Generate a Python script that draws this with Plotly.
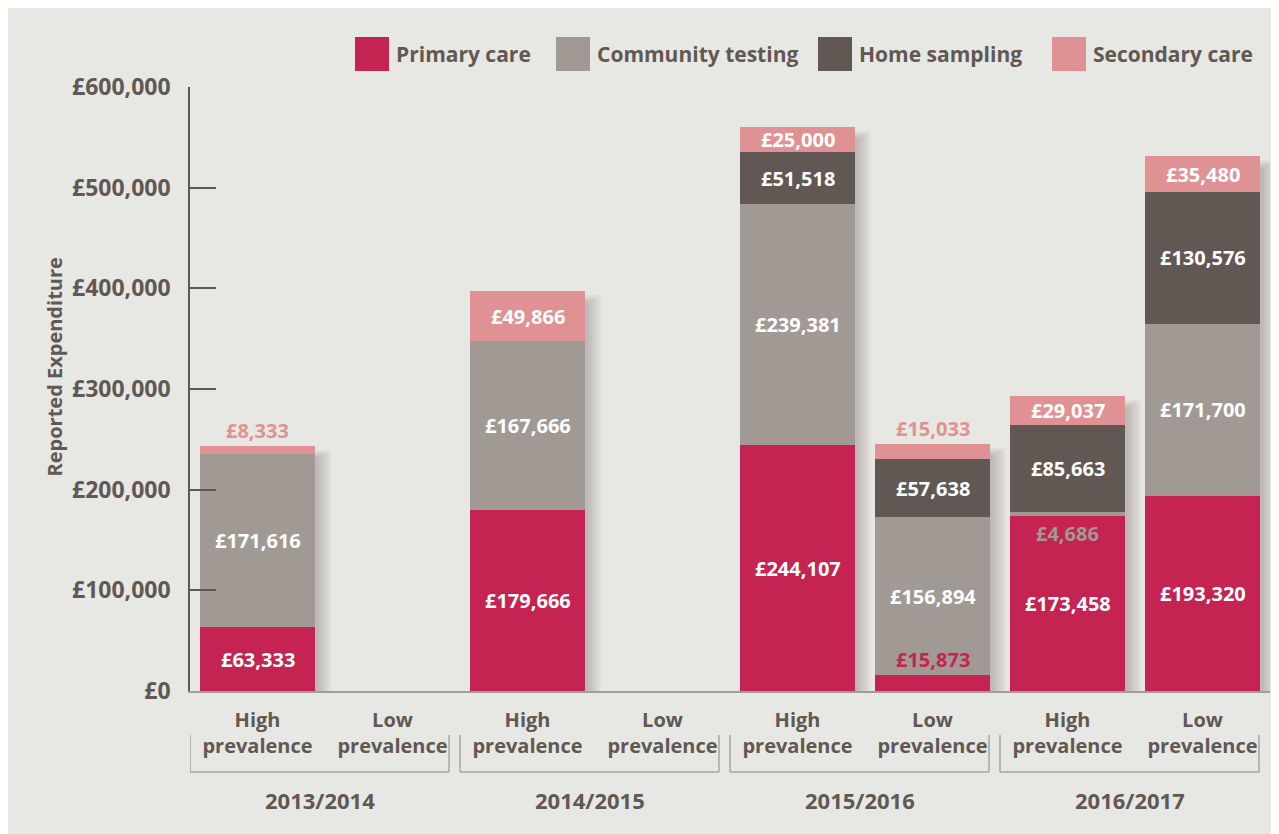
import plotly.graph_objects as go

# data
years = ["2013/2014", "2014/2015", "2015/2016", "2016/2017"]
prevalence = ["High", "Low"]
series_names = ["Primary care", "Community testing", "Home sampling", "Secondary care"]
series_colors = ["#c52351", "#a19a94", "#625853", "#e09193"]

primary_care = [63333, None, 179666, None, 244107, 15873, 173458, 193320]
community_testing = [171616, None, 167666, None, 239381, 156894, 4686, 171700]
home_sampling = [None, None, None, None, 51518, 57638, 85663, 130576]
secondary_care = [8333, None, 49866, None, 25000, 15033, 29037, 35480]

y_ticks = [0, 100000, 200000, 300000, 400000, 500000, 600000]

series_values = [primary_care, community_testing, home_sampling, secondary_care]
categories = [f"{yr} {p}" for yr in years for p in prevalence]
tick_text = [f"{p}<br>prevalence" for yr in years for p in prevalence]

BG = "#e7e7e3"
INK = "#625853"
FONT = "Open Sans"

fig = go.Figure()
for name, vals, col in zip(series_names, series_values, series_colors):
    fig.add_trace(go.Bar(x=categories, y=vals, name=name, marker=dict(color=col, line=dict(width=0)),
                         showlegend=False, hoverinfo="y+name"))

# pixel helpers for decorations (plot area 1080 x 604 px)
px_x = 1 / 135.0
px_y = 600000 / 604.0
hw = 0.845 / 2

shapes = []
annotations = []

# soft drop shadows behind each stack
for i, cat in enumerate(categories):
    total = sum(v[i] or 0 for v in series_values)
    if total == 0:
        continue
    for s in [13, 10, 7, 4, 1]:
        shapes.append(dict(type="rect", layer="below", xref="x", yref="y",
                           x0=i - hw + 4 * px_x, x1=i + hw + 3 * px_x + s * px_x,
                           y0=0, y1=total - 12 * px_y + s * 0.6 * px_y,
                           fillcolor="rgba(70,60,55,0.055)", line=dict(width=0)))

# segment labels
for k, (vals, col) in enumerate(zip(series_values, series_colors)):
    for i, v in enumerate(vals):
        if not v:
            continue
        base = sum(series_values[j][i] or 0 for j in range(k))
        if v >= 20000:
            annotations.append(dict(x=categories[i], y=base + v / 2, xref="x", yref="y",
                                    text=f"£{v:,}", showarrow=False,
                                    font=dict(family=FONT, size=20, color="white", weight="bold")))
        elif k == 1:
            annotations.append(dict(x=categories[i], y=base, xref="x", yref="y", yanchor="top",
                                    yshift=-2, text=f"£{v:,}", showarrow=False,
                                    font=dict(family=FONT, size=20, color=col, weight="bold")))
        else:
            annotations.append(dict(x=categories[i], y=base + v, xref="x", yref="y", yanchor="bottom",
                                    yshift=0, text=f"£{v:,}", showarrow=False,
                                    font=dict(family=FONT, size=20, color=col, weight="bold")))

# year brackets and labels
for g, yr in enumerate(years):
    x0 = 2 * g - 0.5
    x1 = 2 * g + 1.5 - 11 * px_x
    for seg in [(x0, -0.073, x0, -0.134), (x0, -0.134, x1, -0.134), (x1, -0.134, x1, -0.073)]:
        shapes.append(dict(type="line", xref="x", yref="paper", x0=seg[0], y0=seg[1], x1=seg[2], y1=seg[3],
                           line=dict(color="#aaa49f", width=1.5)))
    annotations.append(dict(x=(x0 + x1) / 2, y=-0.181, xref="x", yref="paper", yanchor="middle",
                            text=yr, showarrow=False,
                            font=dict(family=FONT, size=22, color=INK, weight="bold")))

# legend drawn at the top
legend_x = [355, 556, 818, 1052]
for name, col, lx in zip(series_names, series_colors, legend_x):
    xp = (lx - 190) / 1080
    shapes.append(dict(type="rect", xref="paper", yref="paper", x0=xp, x1=xp + 34 / 1080,
                       y0=(691 - 71) / 604, y1=(691 - 37) / 604, fillcolor=col, line=dict(width=0)))
    annotations.append(dict(x=xp + 39 / 1080, y=(691 - 54) / 604, xref="paper", yref="paper",
                            xanchor="left", yanchor="middle", text=name, showarrow=False,
                            font=dict(family=FONT, size=21, color=INK, weight="bold")))

# y axis title
annotations.append(dict(x=(38 - 190) / 1080, y=(691 - 367) / 604, xref="paper", yref="paper",
                        text="Reported Expenditure", textangle=-90, showarrow=False,
                        font=dict(family=FONT, size=20, color=INK, weight="bold")))

fig.update_layout(
    barmode="stack",
    bargap=0.155,
    width=1271, height=826,
    margin=dict(l=182, r=9, t=79, b=143),
    paper_bgcolor=BG, plot_bgcolor=BG,
    font=dict(family=FONT, color=INK),
    shapes=shapes,
    annotations=annotations,
    xaxis=dict(type="category", categoryorder="array", categoryarray=categories,
               tickvals=categories, ticktext=tick_text, showgrid=False, zeroline=False,
               showline=True, linecolor="#a39d98", linewidth=2, ticks="",
               ticklabelstandoff=10, range=[-0.5, 7.5],
               tickfont=dict(family=FONT, size=20, color=INK, weight="bold")),
    yaxis=dict(range=[0, 600000], tickvals=y_ticks, ticktext=[f"£{v:,}" for v in y_ticks],
               showgrid=False, zeroline=False, showline=True, linecolor=INK, linewidth=1.5,
               ticks="inside", ticklen=26, tickwidth=1.5, tickcolor=INK, ticklabelstandoff=13,
               tickfont=dict(family=FONT, size=23, color=INK, weight="bold")),
)

fig.write_html("out.html")
